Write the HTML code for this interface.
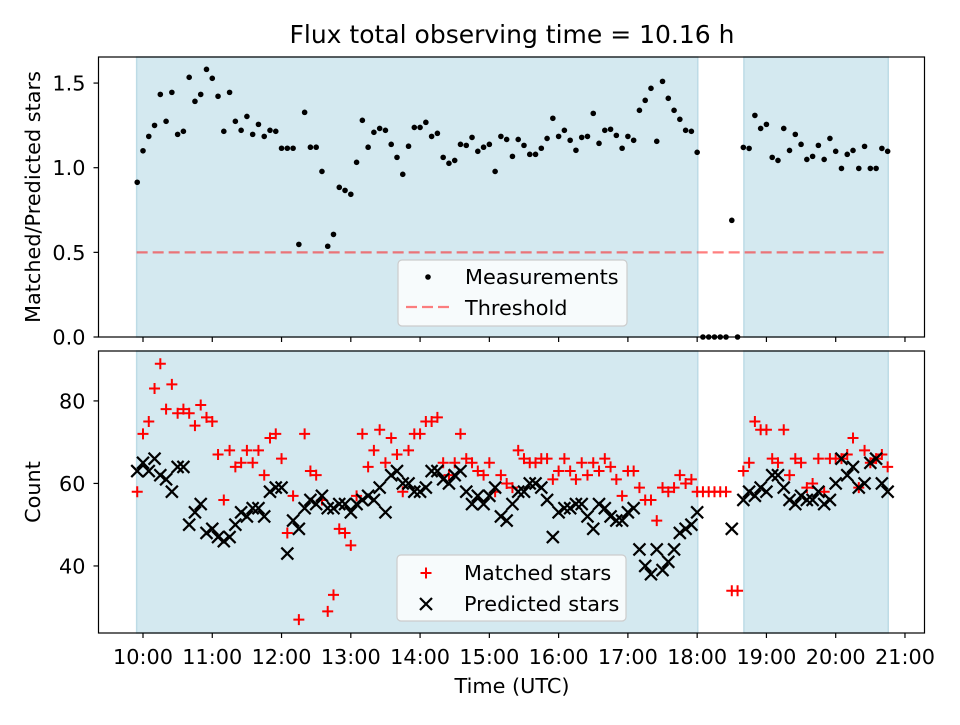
<!DOCTYPE html>
<html><head><meta charset="utf-8"><title>Flux observing time</title>
<style>
html,body{margin:0;padding:0;background:#fff;}
svg text{font-family:"DejaVu Sans","Liberation Sans",sans-serif;fill:#000;}
</style></head>
<body>
<svg id="chart" xmlns="http://www.w3.org/2000/svg" width="960" height="720" viewBox="0 0 960 720">
<rect x="0" y="0" width="960" height="720" fill="#fff"/>
<text x="512" y="43" font-size="25" text-anchor="middle">Flux total observing time = 10.16 h</text>
<g id="top"></g>
<g id="bot"></g>
<text transform="translate(40,197) rotate(-90)" font-size="20.8" text-anchor="middle">Matched/Predicted stars</text>
<text transform="translate(40,492) rotate(-90)" font-size="20.8" text-anchor="middle">Count</text>
<text x="512" y="693" font-size="20.8" text-anchor="middle">Time (UTC)</text>
</svg>
<script>
// sampling grid: minutes after 10:00 of first sample, and cadence
const startMinute = -5;
const stepMinute = 5;
const ratio = [0.914,1.10,1.185,1.25,1.433,1.274,1.445,1.197,1.215,1.534,1.392,1.433,1.581,1.528,1.422,1.215,1.445,1.274,1.221,1.303,1.197,1.256,1.185,1.221,1.215,1.115,1.115,1.115,0.547,1.327,1.121,1.121,0.978,0.536,0.606,0.884,0.866,0.843,1.032,1.280,1.121,1.209,1.232,1.221,1.138,1.061,0.961,1.127,1.238,
1.238,1.268,1.185,1.203,1.061,1.026,1.043,1.138,1.132,1.179,1.097,1.121,1.138,0.978,1.185,1.167,1.067,1.167,1.132,1.079,1.079,1.115,1.173,1.292,1.185,1.221,1.162,1.103,1.179,1.185,1.321,1.144,1.221,1.227,1.191,1.115,1.185,1.162,1.339,1.398,1.469,1.156,1.510,1.410,1.339,1.286,1.221,1.215,1.091,
0,0,0,0,0,0.689,0,
1.120,1.114,1.309,1.232,1.256,1.061,1.043,1.232,1.102,1.197,1.138,1.049,1.067,1.132,1.049,1.173,1.097,0.996,1.079,1.102,0.996,1.126,0.996,0.996,1.114,1.097];
const matched = [58,72,75,83,89,78,84,77,78,77,74,79,76,75,67,56,68,64,65,68,65,68,62,71,72,66,48,57,27,72,63,62,56,29,33,49,48,45,57,72,64,68,73,65,71,67,58,68,72,
72,75,75,76,65,62,65,72,66,65,63,62,65,58,62,60,59,68,66,65,65,66,66,61,63,66,63,61,65,62,65,63,66,64,61,57,63,63,59,56,56,51,59,58,59,62,60,61,58,
58,58,58,58,58,34,34,
63,65,75,73,73,66,65,73,62,66,65,59,60,66,58,66,66,66,67,71,59,68,65,66,67,64];
const predicted = [63,65,63,66,62,61,58,64,64,50,53,55,48,49,47,46,47,50,53,52,54,54,52,58,59,59,43,51,49,54,56,55,57,54,54,55,55,53,55,56,57,56,59,53,62,63,60,60,58,
58,59,63,63,61,60,62,63,58,55,57,55,57,59,52,51,55,58,58,60,60,59,56,47,53,54,54,55,55,52,49,55,54,52,51,51,53,54,44,40,38,44,39,41,44,48,49,50,53,
null,null,null,null,null,49,null,
56,58,57,59,58,62,62,59,56,55,57,56,56,58,55,56,60,66,62,64,59,60,65,66,60,58];
const threshold = 0.5;
const shadeSpans = [[-5.5, 480.5], [520.5, 645.5]]; // minutes after 10:00
const tickLabels = ["10:00","11:00","12:00","13:00","14:00","15:00","16:00","17:00","18:00","19:00","20:00","21:00"];
const ratioTicks = [0.0, 0.5, 1.0, 1.5];
const countTicks = [40, 60, 80];

const NS = "http://www.w3.org/2000/svg";
const FS = 20.8;
const AX_L = 98.5, AX_R = 924.5;
const TOP = {t:57, b:337, min:0, max:1.654};
const BOT = {t:351, b:633, min:23.75, max:92.1};
function xs(min){ return 143 + min * (69.27/60); }
function ysTop(v){ return TOP.b - (v - TOP.min) / (TOP.max - TOP.min) * (TOP.b - TOP.t); }
function ysBot(v){ return BOT.b - (v - BOT.min) / (BOT.max - BOT.min) * (BOT.b - BOT.t); }
function mk(tag, attrs, parent){ const e=document.createElementNS(NS,tag); for(const k in attrs) e.setAttribute(k,attrs[k]); parent.appendChild(e); return e; }
function timeOf(i){ return startMinute + stepMinute * i; }

const gTop = document.getElementById('top');
const gBot = document.getElementById('bot');

function panel(g, P, ys, ticks, fmt, prefix){
  mk('rect',{x:AX_L,y:P.t,width:AX_R-AX_L,height:P.b-P.t,fill:'#fff'},g);
  shadeSpans.forEach((s,k)=>{
    const r = mk('rect',{x:xs(s[0]),y:P.t,width:xs(s[1])-xs(s[0]),height:P.b-P.t,fill:'#d4e9f0',stroke:'#bddbe6','stroke-width':1.5},g);
    
    
  });
  ticks.forEach(v=>{
    const y = ys(v);
    mk('line',{x1:AX_L-5,x2:AX_L,y1:y,y2:y,stroke:'#000','stroke-width':1.2},g);
    const t = mk('text',{x:AX_L-13,y:y+7.5,'font-size':FS,'text-anchor':'end'},g);
    t.textContent = fmt(v);
    
    
  });
  tickLabels.forEach((lab,k)=>{
    const x = xs(k*60);
    mk('line',{x1:x,x2:x,y1:P.b,y2:P.b+5,stroke:'#000','stroke-width':1.2},g);
  });
}
panel(gTop, TOP, ysTop, ratioTicks, v=>v.toFixed(1), 'ratio');
panel(gBot, BOT, ysBot, countTicks, v=>String(v), 'count');

// x tick labels (bottom panel only)
tickLabels.forEach((lab,k)=>{
  const t = mk('text',{x:xs(k*60),y:BOT.b+31,'font-size':FS,'text-anchor':'middle'},gBot);
  t.textContent = lab;
  
  
});

// threshold line
const th = mk('line',{x1:xs(shadeSpans[0][0]),x2:xs(shadeSpans[1][1]),y1:ysTop(threshold),y2:ysTop(threshold),stroke:'#ff0000','stroke-opacity':0.5,'stroke-width':2.2,'stroke-dasharray':'11 5'},gTop);



// measurements
ratio.forEach((v,i)=>{
  const c = mk('circle',{cx:xs(timeOf(i)),cy:ysTop(v),r:2.8,fill:'#000'},gTop);
  
  
});

function plus(g,x,y){ return mk('path',{d:`M${x-5.5},${y}H${x+5.5}M${x},${y-5.5}V${y+5.5}`,stroke:'#ff0000','stroke-width':2,fill:'none'},g); }
function cross(g,x,y){ return mk('path',{d:`M${x-6},${y-6}L${x+6},${y+6}M${x-6},${y+6}L${x+6},${y-6}`,stroke:'#000','stroke-width':2.2,fill:'none'},g); }

matched.forEach((v,i)=>{
  if(v===null) return;
  const p = plus(gBot, xs(timeOf(i)), ysBot(v));
  
  
});
predicted.forEach((v,i)=>{
  if(v===null) return;
  const p = cross(gBot, xs(timeOf(i)), ysBot(v));
  
  
});

// frames
[TOP,BOT].forEach((P,k)=>{
  const f = mk('rect',{x:AX_L,y:P.t,width:AX_R-AX_L,height:P.b-P.t,fill:'none',stroke:'#000','stroke-width':1.2},k?gBot:gTop);
  
  
});

// legends
function legend(g, x, y, name){
  const lg = mk('g',{},g);
  
  
  mk('rect',{x:x,y:y,width:229,height:66,rx:4,fill:'#fff','fill-opacity':0.8,stroke:'#cccccc','stroke-width':1.2},lg);
  return lg;
}
const lt = legend(gTop, 398, 260, 'ratio-legend');
mk('circle',{cx:428,cy:277,r:2.8,fill:'#000'},lt);
let t1 = mk('text',{x:465,y:284,'font-size':FS},lt); t1.textContent='Measurements';


mk('line',{x1:406,x2:450,y1:307,y2:307,stroke:'#ff0000','stroke-opacity':0.5,'stroke-width':2.2,'stroke-dasharray':'11 5'},lt);
let t2 = mk('text',{x:465,y:315,'font-size':FS},lt); t2.textContent='Threshold';



const lb = legend(gBot, 397, 555, 'count-legend');
plus(lb, 426, 573);
let t3 = mk('text',{x:464,y:580,'font-size':FS},lb); t3.textContent='Matched stars';


cross(lb, 426, 604);
let t4 = mk('text',{x:464,y:611,'font-size':FS},lb); t4.textContent='Predicted stars';


</script>
</body></html>
